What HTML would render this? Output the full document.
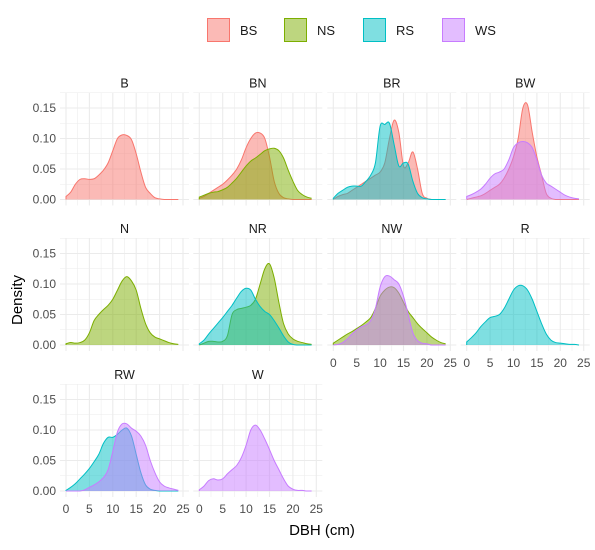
<!DOCTYPE html>
<html><head><meta charset="utf-8">
<style>
body{margin:0;background:#fff;font-family:"Liberation Sans",Arial,sans-serif;}
svg text{font-family:"Liberation Sans",Arial,sans-serif;}
</style></head>
<body>
<svg id="chart" width="595" height="545" xmlns="http://www.w3.org/2000/svg"></svg>
<script>
const species = ["BS","NS","RS","WS"];
const speciesColors = ["#F8766D","#7CAE00","#00BFC4","#C77CFF"];
const panels = ["B","BN","BR","BW","N","NR","NW","R","RW","W"];
const xTicks = [0,5,10,15,20,25];
const yTicks = [0,0.05,0.10,0.15];
const yTickLabels = ["0.00","0.05","0.10","0.15"];
// density values at DBH = 0..24 cm
const dB_BS = [0.005,0.012,0.025,0.033,0.034,0.033,0.034,0.04,0.048,0.06,0.08,0.1,0.106,0.105,0.098,0.075,0.045,0.02,0.01,0.003,0.001,0,0,0,0];
const dBN_BS = [0.002,0.005,0.01,0.015,0.02,0.025,0.032,0.04,0.05,0.065,0.085,0.1,0.109,0.109,0.1,0.07,0.03,0.01,0.003,0.001,0,0,0,0,0];
const dBN_NS = [0.004,0.007,0.01,0.012,0.013,0.016,0.02,0.027,0.035,0.045,0.055,0.063,0.068,0.074,0.08,0.083,0.084,0.08,0.068,0.048,0.03,0.015,0.008,0.004,0.002];
const dBR_BS = [0,0.005,0.008,0.01,0.015,0.02,0.025,0.03,0.035,0.04,0.045,0.06,0.1,0.13,0.11,0.055,0.06,0.078,0.05,0.01,0.002,0,0,0,0];
const dBR_RS = [0.002,0.01,0.015,0.02,0.022,0.022,0.022,0.03,0.04,0.06,0.12,0.123,0.125,0.09,0.055,0.06,0.058,0.03,0.01,0.003,0.001,0,0,0,0];
const dBW_BS = [0,0.002,0.004,0.006,0.01,0.015,0.02,0.025,0.035,0.05,0.07,0.1,0.15,0.155,0.11,0.07,0.04,0.01,0.002,0,0,0,0,0,0];
const dBW_WS = [0.005,0.008,0.012,0.017,0.025,0.035,0.042,0.045,0.05,0.065,0.085,0.093,0.095,0.093,0.085,0.065,0.04,0.027,0.022,0.017,0.012,0.007,0.004,0.002,0.001];
const dN_NS = [0.002,0.004,0.003,0.004,0.008,0.02,0.04,0.05,0.058,0.065,0.075,0.09,0.105,0.112,0.105,0.09,0.06,0.035,0.02,0.013,0.01,0.007,0.004,0.002,0.001];
const dNR_NS = [0,0.003,0.006,0.006,0.005,0.006,0.015,0.05,0.058,0.06,0.062,0.065,0.075,0.1,0.125,0.133,0.11,0.07,0.035,0.018,0.01,0.006,0.004,0.002,0.001];
const dNR_RS = [0.002,0.008,0.018,0.027,0.036,0.045,0.055,0.065,0.077,0.088,0.093,0.09,0.075,0.063,0.055,0.05,0.04,0.028,0.015,0.005,0.001,0,0,0,0];
const dNW_NS = [0.003,0.008,0.013,0.018,0.022,0.027,0.032,0.038,0.045,0.06,0.08,0.09,0.095,0.094,0.085,0.07,0.055,0.045,0.035,0.027,0.02,0.013,0.008,0.004,0.002];
const dNW_WS = [0,0.001,0.004,0.01,0.018,0.025,0.03,0.033,0.04,0.06,0.095,0.112,0.113,0.107,0.1,0.08,0.05,0.02,0.007,0.003,0.002,0,0,0,0];
const dR_RS = [0.005,0.012,0.02,0.03,0.038,0.045,0.047,0.05,0.06,0.075,0.09,0.097,0.097,0.09,0.075,0.055,0.035,0.018,0.008,0.004,0.003,0.002,0.001,0.001,0];
const dRW_RS = [0.001,0.006,0.012,0.02,0.028,0.037,0.048,0.06,0.078,0.088,0.088,0.093,0.1,0.103,0.09,0.06,0.03,0.01,0.003,0.001,0,0,0,0,0];
const dRW_WS = [0,0,0,0,0.002,0.006,0.01,0.015,0.022,0.035,0.065,0.097,0.11,0.11,0.103,0.098,0.09,0.075,0.05,0.03,0.015,0.008,0.005,0.003,0.001];
const dW_WS = [0.002,0.008,0.017,0.02,0.018,0.02,0.028,0.035,0.042,0.055,0.075,0.1,0.108,0.1,0.085,0.068,0.05,0.035,0.02,0.008,0.003,0.001,0.001,0,0];
const panelSeries = [
 [["BS",dB_BS]],
 [["BS",dBN_BS],["NS",dBN_NS]],
 [["BS",dBR_BS],["RS",dBR_RS]],
 [["BS",dBW_BS],["WS",dBW_WS]],
 [["NS",dN_NS]],
 [["NS",dNR_NS],["RS",dNR_RS]],
 [["NS",dNW_NS],["WS",dNW_WS]],
 [["RS",dR_RS]],
 [["RS",dRW_RS],["WS",dRW_WS]],
 [["WS",dW_WS]]
];
const NS_="http://www.w3.org/2000/svg";
const svg=document.getElementById('chart');
function mk(tag,attrs,parent){const e=document.createElementNS(NS_,tag);for(const k in attrs)e.setAttribute(k,attrs[k]);(parent||svg).appendChild(e);return e;}
const colX0=[66,199.3,333.3,466.7], rowBase=[199.5,345,491];
const xs=4.68, ys=30.5/0.05;
panels.forEach((p,i)=>{
  const c=i%4, r=Math.floor(i/4);
  const X=v=>colX0[c]+v*xs, Y=v=>rowBase[r]-v*ys;
  const g=mk('g',{});
  
  
  // grid
  for(let v=0;v<=25;v+=2.5){const maj=v%5===0;mk('line',{x1:X(v),x2:X(v),y1:rowBase[r]-107,y2:rowBase[r]+6,stroke:'#EBEBEB','stroke-width':maj?1.1:0.55},g);}
  for(let v=0;v<=0.175;v+=0.025){const maj=Math.round(v*1000)%50===0;mk('line',{x1:colX0[c]-6,x2:colX0[c]+123,y1:Y(v),y2:Y(v),stroke:'#EBEBEB','stroke-width':maj?1.1:0.55},g);}
  const st=mk('text',{x:colX0[c]+58.5,y:rowBase[r]-112,'text-anchor':'middle','font-size':12.5,fill:'#1a1a1a'},g);st.textContent=p;
  
  
  panelSeries[i].forEach(([sp,vals])=>{
    const col=speciesColors[species.indexOf(sp)];
    const pts=vals.map((v,k)=>[X(k),Y(v)]);
    let d='M'+X(0)+','+Y(0)+' L'+pts[0][0]+','+pts[0][1];
    for(let k=0;k<pts.length-1;k++){const p0=pts[Math.max(k-1,0)],p1=pts[k],p2=pts[k+1],p3=pts[Math.min(k+2,pts.length-1)];
      d+=' C'+(p1[0]+(p2[0]-p0[0])/6)+','+Math.min(Y(0),p1[1]+(p2[1]-p0[1])/6)+' '+(p2[0]-(p3[0]-p1[0])/6)+','+Math.min(Y(0),p2[1]-(p3[1]-p1[1])/6)+' '+p2[0]+','+p2[1];}
    const area=mk('path',{d:d+' L'+X(vals.length-1)+','+Y(0)+' Z',fill:col,'fill-opacity':0.5,stroke:'none'},g);
    
    
    const ln=mk('path',{d:d,fill:'none',stroke:col,'stroke-width':1},g);
    
    
  });
  if(c===0){yTicks.forEach((v,k)=>{const t=mk('text',{x:colX0[c]-10,y:Y(v)+4,'text-anchor':'end','font-size':12,fill:'#4D4D4D'},g);t.textContent=yTickLabels[k];
    
    });}
  const showX = r===2 || (r===1 && c>=2);
  if(showX){xTicks.forEach(v=>{const t=mk('text',{x:X(v),y:rowBase[r]+22,'text-anchor':'middle','font-size':12,fill:'#4D4D4D'},g);t.textContent=v;
    
    });}
});
// axis titles
const yt=mk('text',{x:0,y:0,transform:'translate(22,300) rotate(-90)','text-anchor':'middle','font-size':15,fill:'#000'});yt.textContent='Density';


const xt=mk('text',{x:322,y:535,'text-anchor':'middle','font-size':15,fill:'#000'});xt.textContent='DBH (cm)';


// legend
const legX=[207,284,363,442];
species.forEach((s,k)=>{
  const g=mk('g',{});
  
  
  mk('rect',{x:legX[k]+0.5,y:18.5,width:22,height:23,fill:speciesColors[k],'fill-opacity':0.5,stroke:speciesColors[k]},g);
  const t=mk('text',{x:legX[k]+33,y:35,'font-size':13,fill:'#1a1a1a'},g);t.textContent=s;
});
</script>
</body></html>
